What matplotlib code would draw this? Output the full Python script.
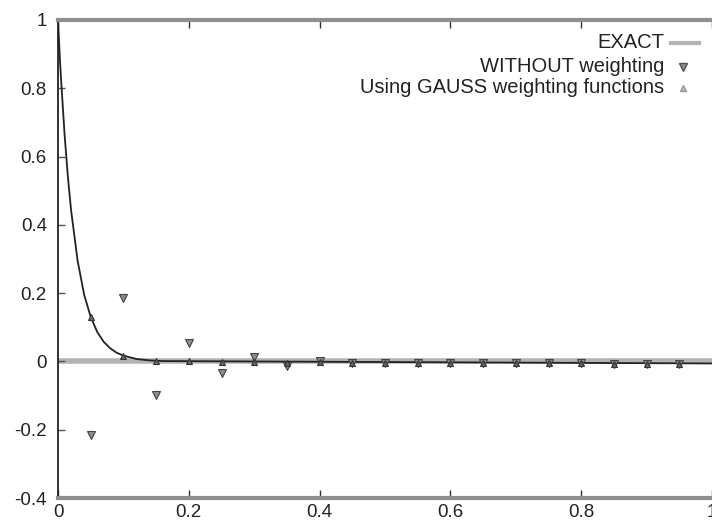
import matplotlib
matplotlib.use("Agg")
from matplotlib import pyplot as plt
from matplotlib.ticker import FuncFormatter

plt.rcParams['font.family'] = ['Liberation Sans', 'DejaVu Sans']

# reference decay curve
curve_x = [0.0, 0.003, 0.005, 0.01, 0.015, 0.02, 0.03, 0.04, 0.05, 0.06,
           0.07, 0.08, 0.09, 0.10, 0.12, 0.14, 0.16, 1.0]
curve_y = [1.0, 0.88, 0.815, 0.665, 0.542, 0.442, 0.294, 0.195, 0.130, 0.086,
           0.057, 0.038, 0.025, 0.017, 0.007, 0.003, 0.001, -0.006]

# exact solution
exact_x = [0.0, 1.0]
exact_y = [0.0, 0.0]

nodes = [0.05, 0.10, 0.15, 0.20, 0.25, 0.30, 0.35, 0.40, 0.45, 0.50,
         0.55, 0.60, 0.65, 0.70, 0.75, 0.80, 0.85, 0.90, 0.95]
without_w = [-0.215, 0.187, -0.097, 0.055, -0.035, 0.013, -0.012, 0.002, -0.006, -0.004,
             -0.006, -0.005, -0.006, -0.006, -0.006, -0.006, -0.007, -0.007, -0.007]
gauss_w = [0.130, 0.015, 0.002, 0.0, -0.002, -0.002, -0.004, -0.002, -0.006, -0.004,
           -0.006, -0.005, -0.006, -0.006, -0.006, -0.006, -0.007, -0.007, -0.007]

y_ticks = [-0.4, -0.2, 0.0, 0.2, 0.4, 0.6, 0.8, 1.0]
x_ticks = [0.0, 0.2, 0.4, 0.6, 0.8, 1.0]


def fmt(v, pos):
    return '%g' % round(v, 2)


fig = plt.figure(figsize=(7.12, 5.24), dpi=100)
ax = fig.add_axes([0.0815, 0.0496, 0.9185, 0.9124])

ax.plot(exact_x, exact_y, color='#b4b4b4', lw=4, solid_capstyle='butt', zorder=1)
ax.plot(curve_x, curve_y, color='#222222', lw=1.3, zorder=2)
ax.plot(nodes, without_w, ls='none', marker='v', ms=6, mfc='#8c8c8c', mec='#444444',
        mew=0.8, zorder=3)
ax.plot(nodes, gauss_w, ls='none', marker='^', ms=5, mfc='#666666', mec='#333333',
        mew=0.8, zorder=3)

ax.set_xlim(0, 1)
ax.set_ylim(-0.4, 1.0)
ax.set_xticks(x_ticks)
ax.set_yticks(y_ticks)
ax.xaxis.set_major_formatter(FuncFormatter(fmt))
ax.yaxis.set_major_formatter(FuncFormatter(fmt))
ax.tick_params(axis='x', direction='in', top=True, length=6, width=1, pad=4,
               labelsize=13.5, colors='#333333', labelcolor='#222222')
ax.tick_params(axis='y', direction='in', right=False, length=5, width=1, pad=8,
               labelsize=13.5, colors='#555555', labelcolor='#222222')

for side in ('top', 'bottom'):
    ax.spines[side].set_color('#8f8f8f')
    ax.spines[side].set_linewidth(3)
ax.spines['left'].set_color('#222222')
ax.spines['left'].set_linewidth(1.3)
ax.spines['right'].set_visible(False)

# key, text right-aligned in front of the samples
tr = ax.transAxes
rows = [0.952, 0.902, 0.858]
labels = ['EXACT', 'WITHOUT weighting', 'Using GAUSS weighting functions']
for y, lab in zip(rows, labels):
    ax.text(0.927, y, lab, transform=tr, ha='right', va='center',
            fontsize=14.5, color='#222222')
ax.plot([0.937, 0.98], [rows[0], rows[0]], transform=tr, color='#b4b4b4', lw=3,
        clip_on=False)
ax.plot([0.955], [rows[1]], transform=tr, ls='none', marker='v', ms=6,
        mfc='#8c8c8c', mec='#555555', clip_on=False)
ax.plot([0.955], [rows[2]], transform=tr, ls='none', marker='^', ms=5,
        mfc='#bbbbbb', mec='#999999', clip_on=False)

fig.savefig('out.png', dpi=100)
